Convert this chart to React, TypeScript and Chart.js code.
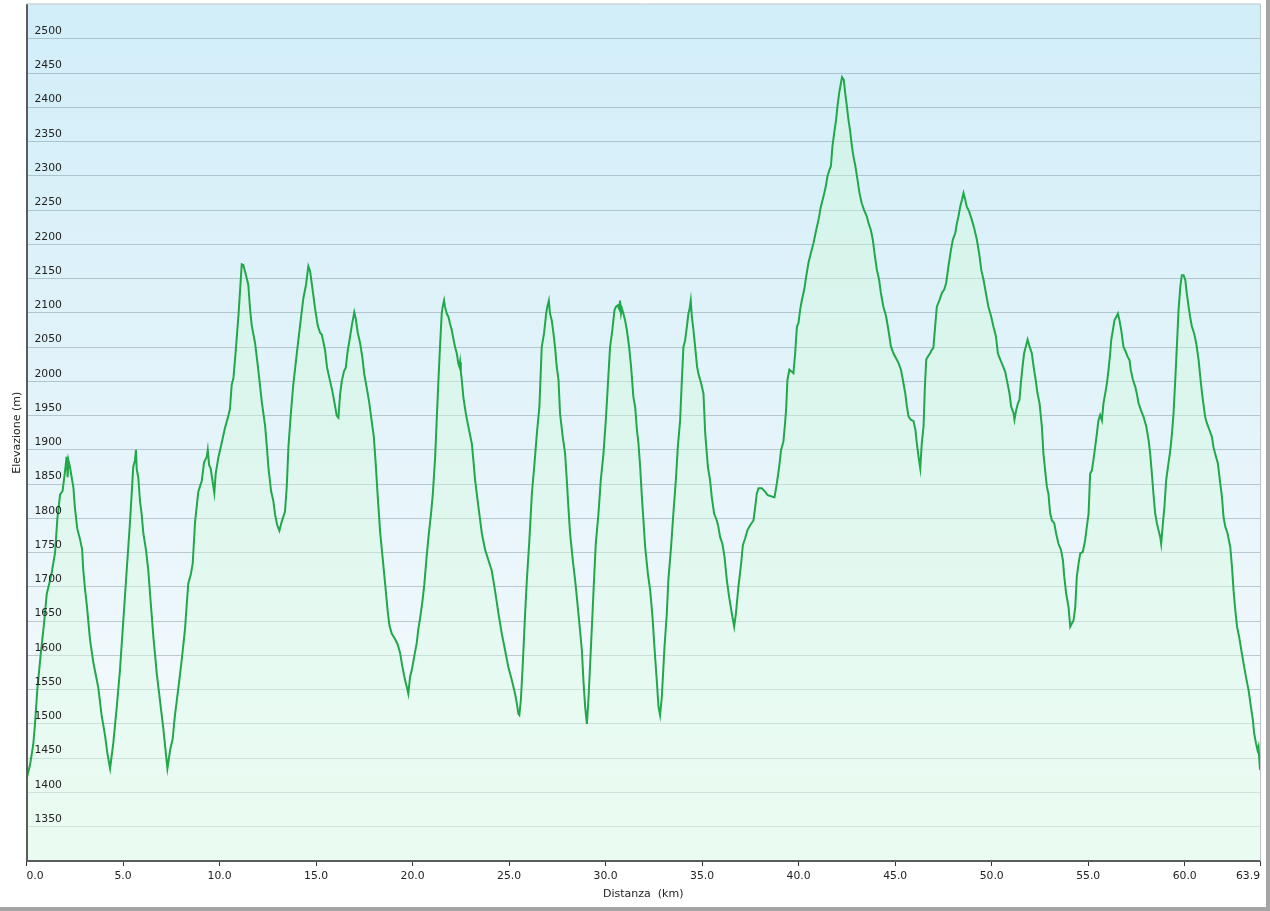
import React, { useEffect, useRef } from 'react';
import { Chart, registerables } from 'chart.js';

Chart.register(...registerables);

// Distance along the route (km)
const distanceKm: number[] = [
  0.00, 0.05, 0.18, 0.35, 0.44, 0.56, 0.73, 0.92, 1.05, 1.18, 1.30, 1.48, 1.60, 1.74, 1.87, 2.00, 2.08, 2.13, 2.17, 2.25,
  2.43, 2.51, 2.63, 2.77, 2.88, 2.94, 3.03, 3.12, 3.29, 3.46, 3.72, 3.89, 4.07, 4.19, 4.33, 4.50, 4.67, 4.84, 5.02, 5.19,
  5.36, 5.53, 5.62, 5.67, 5.71, 5.79, 5.88, 5.97, 6.05, 6.19, 6.31, 6.43, 6.57, 6.75, 6.92, 7.09, 7.18, 7.30, 7.44, 7.57,
  7.69, 7.87, 8.04, 8.21, 8.30, 8.38, 8.51, 8.61, 8.73, 8.90, 9.08, 9.20, 9.34, 9.39, 9.46, 9.54, 9.65, 9.73, 9.80, 9.94,
  10.11, 10.28, 10.46, 10.54, 10.63, 10.72, 10.84, 10.98, 11.06, 11.15, 11.23, 11.36, 11.49, 11.58, 11.67, 11.84, 12.01, 12.19, 12.36, 12.45,
  12.53, 12.67, 12.79, 12.88, 12.99, 13.10, 13.22, 13.39, 13.48, 13.57, 13.70, 13.82, 14.00, 14.17, 14.34, 14.48, 14.60, 14.69, 14.81, 14.95,
  15.09, 15.21, 15.30, 15.47, 15.57, 15.73, 15.85, 15.98, 16.07, 16.16, 16.24, 16.33, 16.45, 16.54, 16.64, 16.71, 16.85, 16.98, 17.06, 17.16,
  17.28, 17.40, 17.50, 17.63, 17.75, 17.89, 17.99, 18.09, 18.20, 18.32, 18.44, 18.58, 18.71, 18.80, 18.92, 19.09, 19.23, 19.35, 19.47, 19.61,
  19.70, 19.78, 19.87, 19.96, 20.09, 20.22, 20.30, 20.39, 20.51, 20.61, 20.73, 20.85, 20.95, 21.05, 21.17, 21.25, 21.34, 21.42, 21.51, 21.56,
  21.63, 21.68, 21.77, 21.86, 21.94, 22.03, 22.11, 22.20, 22.29, 22.37, 22.43, 22.46, 22.50, 22.55, 22.63, 22.76, 22.89, 23.07, 23.15, 23.24,
  23.41, 23.59, 23.76, 23.93, 24.10, 24.27, 24.45, 24.62, 24.79, 24.96, 25.14, 25.31, 25.40, 25.48, 25.53, 25.61, 25.71, 25.83, 25.92, 26.05,
  26.18, 26.30, 26.44, 26.57, 26.69, 26.81, 26.92, 26.98, 27.06, 27.12, 27.21, 27.30, 27.38, 27.47, 27.56, 27.64, 27.78, 27.90, 27.99, 28.07,
  28.16, 28.30, 28.42, 28.51, 28.64, 28.77, 28.85, 28.94, 29.03, 29.11, 29.20, 29.32, 29.40, 29.49, 29.63, 29.75, 29.89, 30.01, 30.15, 30.23,
  30.35, 30.46, 30.54, 30.63, 30.70, 30.75, 30.80, 30.85, 30.92, 31.01, 31.10, 31.22, 31.32, 31.44, 31.53, 31.62, 31.70, 31.79, 31.87, 31.96,
  32.05, 32.19, 32.31, 32.43, 32.53, 32.65, 32.74, 32.82, 32.91, 33.05, 33.17, 33.25, 33.39, 33.51, 33.64, 33.74, 33.86, 33.95, 34.03, 34.12,
  34.21, 34.29, 34.34, 34.41, 34.47, 34.55, 34.64, 34.74, 34.81, 34.95, 35.07, 35.16, 35.30, 35.41, 35.50, 35.62, 35.76, 35.84, 35.93, 36.05,
  36.16, 36.28, 36.40, 36.54, 36.66, 36.75, 36.88, 37.02, 37.11, 37.23, 37.35, 37.49, 37.66, 37.75, 37.83, 37.92, 38.09, 38.26, 38.40, 38.61,
  38.75, 38.87, 38.99, 39.09, 39.21, 39.30, 39.35, 39.42, 39.52, 39.65, 39.73, 39.82, 39.91, 39.99, 40.08, 40.17, 40.29, 40.39, 40.51, 40.63,
  40.77, 40.91, 41.03, 41.15, 41.29, 41.41, 41.49, 41.60, 41.67, 41.75, 41.84, 41.94, 42.01, 42.10, 42.19, 42.25, 42.34, 42.41, 42.50, 42.58,
  42.67, 42.76, 42.84, 42.94, 43.05, 43.15, 43.27, 43.39, 43.53, 43.62, 43.74, 43.84, 43.93, 44.05, 44.17, 44.26, 44.39, 44.53, 44.65, 44.78,
  44.91, 45.04, 45.17, 45.30, 45.40, 45.52, 45.61, 45.69, 45.81, 45.95, 46.05, 46.12, 46.21, 46.30, 46.38, 46.47, 46.54, 46.61, 46.69, 46.81,
  46.90, 46.98, 47.07, 47.16, 47.30, 47.42, 47.54, 47.64, 47.76, 47.89, 47.99, 48.11, 48.20, 48.28, 48.37, 48.46, 48.54, 48.63, 48.71, 48.83,
  48.97, 49.09, 49.23, 49.35, 49.46, 49.58, 49.70, 49.83, 49.97, 50.09, 50.22, 50.32, 50.44, 50.56, 50.70, 50.82, 50.92, 51.01, 51.13, 51.18,
  51.27, 51.36, 51.44, 51.51, 51.60, 51.68, 51.77, 51.86, 51.96, 52.08, 52.17, 52.28, 52.37, 52.48, 52.60, 52.68, 52.77, 52.86, 52.94, 53.03,
  53.12, 53.24, 53.34, 53.46, 53.59, 53.69, 53.76, 53.86, 53.98, 54.07, 54.16, 54.24, 54.33, 54.41, 54.50, 54.59, 54.72, 54.84, 54.93, 55.02,
  55.10, 55.19, 55.27, 55.36, 55.45, 55.53, 55.62, 55.71, 55.79, 55.88, 55.97, 56.05, 56.14, 56.19, 56.28, 56.36, 56.49, 56.54, 56.62, 56.71,
  56.83, 56.92, 57.04, 57.14, 57.21, 57.32, 57.44, 57.52, 57.61, 57.73, 57.87, 58.01, 58.13, 58.21, 58.30, 58.38, 58.47, 58.56, 58.64, 58.73,
  58.78, 58.87, 58.95, 59.04, 59.13, 59.25, 59.34, 59.42, 59.51, 59.60, 59.68, 59.77, 59.85, 59.94, 60.03, 60.11, 60.20, 60.28, 60.37, 60.49,
  60.60, 60.72, 60.84, 60.94, 61.06, 61.15, 61.28, 61.41, 61.49, 61.62, 61.72, 61.84, 61.93, 62.01, 62.10, 62.22, 62.36, 62.45, 62.53, 62.62,
  62.71, 62.82, 62.93, 63.05, 63.17, 63.31, 63.43, 63.53, 63.60, 63.69, 63.77, 63.82, 63.90,
];

// Elevation at each distance (m)
const elevationM: number[] = [
  1445, 1425, 1440, 1470, 1500, 1550, 1600, 1650, 1690, 1705, 1720, 1750, 1800, 1835, 1840, 1870, 1890, 1860, 1885, 1875,
  1845, 1815, 1785, 1770, 1755, 1725, 1697, 1675, 1623, 1590, 1553, 1513, 1483, 1457, 1435, 1473, 1523, 1578, 1653, 1724,
  1794, 1875, 1885, 1900, 1872, 1860, 1825, 1805, 1779, 1754, 1724, 1679, 1628, 1573, 1533, 1493, 1468, 1435, 1462, 1478,
  1513, 1553, 1593, 1638, 1674, 1705, 1718, 1734, 1794, 1839, 1855, 1882, 1890, 1900, 1878, 1873, 1852, 1837, 1865, 1889,
  1910, 1932, 1950, 1960, 1995, 2005, 2045, 2096, 2131, 2171, 2170, 2156, 2141, 2106, 2081, 2056, 2016, 1970, 1935, 1905,
  1875, 1840, 1825, 1805, 1790, 1782, 1795, 1810, 1845, 1905, 1955, 1995, 2040, 2081, 2121, 2141, 2168, 2161, 2136, 2106,
  2081, 2071, 2068, 2045, 2020, 2000, 1985, 1965, 1950, 1947, 1980, 2000, 2015, 2020, 2045, 2056, 2081, 2101, 2091, 2071,
  2056, 2035, 2010, 1990, 1970, 1940, 1920, 1880, 1830, 1780, 1745, 1704, 1665, 1644, 1632, 1624, 1616, 1604, 1584, 1564,
  1554, 1544, 1569, 1579, 1599, 1619, 1639, 1654, 1679, 1704, 1745, 1780, 1805, 1836, 1890, 1943, 2002, 2050, 2099, 2109,
  2118, 2109, 2099, 2094, 2084, 2075, 2063, 2050, 2041, 2026, 2021, 2028, 2014, 2002, 1977, 1953, 1934, 1909, 1885, 1856,
  1817, 1778, 1754, 1739, 1724, 1695, 1661, 1632, 1608, 1583, 1564, 1544, 1530, 1515, 1513, 1535, 1588, 1661, 1710, 1768,
  1836, 1875, 1924, 1963, 2050, 2070, 2099, 2109, 2118, 2099, 2089, 2070, 2050, 2021, 2002, 1953, 1919, 1895, 1856, 1817,
  1778, 1739, 1710, 1685, 1647, 1608, 1564, 1525, 1500, 1535, 1588, 1661, 1710, 1763, 1807, 1856, 1895, 1943, 2011, 2050,
  2075, 2104, 2109, 2111, 2106, 2118, 2099, 2106, 2099, 2089, 2075, 2050, 2021, 1977, 1963, 1930, 1910, 1875, 1836, 1797,
  1758, 1719, 1695, 1656, 1612, 1564, 1525, 1513, 1539, 1612, 1661, 1710, 1758, 1807, 1856, 1904, 1943, 2002, 2050, 2060,
  2080, 2099, 2104, 2118, 2094, 2075, 2050, 2021, 2011, 1997, 1982, 1924, 1875, 1856, 1831, 1807, 1797, 1788, 1773, 1763,
  1744, 1710, 1685, 1661, 1642, 1661, 1700, 1734, 1761, 1771, 1783, 1790, 1797, 1817, 1836, 1844, 1844, 1839, 1834, 1832,
  1831, 1851, 1875, 1900, 1912, 1940, 1959, 2002, 2017, 2014, 2012, 2041, 2080, 2085, 2105, 2119, 2134, 2153, 2173, 2187,
  2202, 2221, 2236, 2255, 2270, 2285, 2299, 2309, 2314, 2343, 2362, 2382, 2401, 2421, 2435, 2444, 2440, 2421, 2401, 2382,
  2365, 2343, 2328, 2314, 2294, 2275, 2260, 2250, 2241, 2231, 2221, 2207, 2187, 2163, 2148, 2129, 2109, 2095, 2075, 2051,
  2041, 2034, 2027, 2017, 2002, 1983, 1963, 1949, 1944, 1942, 1929, 1910, 1890, 1873, 1910, 1934, 1992, 2032, 2036, 2041,
  2046, 2049, 2080, 2109, 2119, 2129, 2134, 2143, 2168, 2192, 2207, 2216, 2231, 2241, 2255, 2265, 2275, 2265, 2255, 2248,
  2236, 2224, 2207, 2187, 2163, 2148, 2129, 2109, 2095, 2080, 2066, 2041, 2032, 2024, 2014, 1997, 1983, 1963, 1954, 1944,
  1958, 1968, 1973, 1997, 2022, 2041, 2051, 2061, 2051, 2041, 2022, 2002, 1983, 1968, 1934, 1895, 1870, 1846, 1836, 1807,
  1797, 1793, 1778, 1763, 1754, 1739, 1715, 1690, 1671, 1642, 1647, 1651, 1671, 1715, 1734, 1749, 1751, 1768, 1788, 1807,
  1865, 1870, 1885, 1904, 1924, 1943, 1951, 1943, 1968, 1982, 1997, 2016, 2041, 2060, 2075, 2089, 2096, 2099, 2089, 2075,
  2050, 2045, 2036, 2031, 2016, 2002, 1992, 1982, 1968, 1958, 1948, 1934, 1914, 1895, 1865, 1836, 1807, 1793, 1783, 1773,
  1763, 1793, 1817, 1856, 1875, 1899, 1924, 1953, 2002, 2055, 2104, 2138, 2155, 2155, 2148, 2128, 2109, 2094, 2080, 2070,
  2055, 2031, 1997, 1973, 1948, 1939, 1929, 1919, 1904, 1890, 1880, 1851, 1831, 1802, 1788, 1778, 1758, 1729, 1695, 1666,
  1642, 1627, 1608, 1588, 1569, 1549, 1525, 1506, 1486, 1472, 1462, 1467, 1433,
];

// Axis ticks
const xTickValues: number[] = [0, 5, 10, 15, 20, 25, 30, 35, 40, 45, 50, 55, 60, 63.9];
const yMin = 1300;
const yMax = 2550;
const yStep = 50;

const xTitle = 'Distanza  (km)';
const yTitle = 'Elevazione (m)';

const FONT_FAMILY = '"DejaVu Sans", Verdana, sans-serif';

const plotBackground = {
  id: 'plotBackground',
  beforeDraw(chart: any) {
    const { ctx, chartArea: a } = chart;
    if (!a) return;
    ctx.save();
    const g = ctx.createLinearGradient(0, a.top, 0, a.bottom);
    g.addColorStop(0, '#d1eef9');
    g.addColorStop(0.45, '#e3f3fa');
    g.addColorStop(0.8, '#f1f9fc');
    g.addColorStop(1, '#f1fbf7');
    ctx.fillStyle = g;
    ctx.fillRect(a.left, a.top, a.right - a.left, a.bottom - a.top);
    ctx.restore();
  },
  afterDraw(chart: any) {
    const { ctx, chartArea: a } = chart;
    if (!a) return;
    ctx.save();
    ctx.strokeStyle = '#b9c2c6';
    ctx.lineWidth = 1;
    ctx.beginPath();
    ctx.moveTo(a.left, a.top - 0.5);
    ctx.lineTo(a.right + 0.5, a.top - 0.5);
    ctx.lineTo(a.right + 0.5, a.bottom);
    ctx.stroke();
    ctx.restore();
  },
};

export default function App() {
  const canvasRef = useRef<HTMLCanvasElement | null>(null);

  useEffect(() => {
    const canvas = canvasRef.current;
    if (!canvas) return;

    const points = distanceKm.map((x, i) => ({ x, y: elevationM[i] }));

    const fillGradient = (context: any) => {
      const chart = context.chart;
      const { ctx, chartArea } = chart;
      if (!chartArea) return 'rgba(200,245,215,0.35)';
      const g = ctx.createLinearGradient(0, chartArea.top, 0, chartArea.bottom);
      g.addColorStop(0, 'rgba(205,250,210,0.38)');
      g.addColorStop(0.5, 'rgba(210,250,220,0.42)');
      g.addColorStop(1, 'rgba(228,252,236,0.5)');
      return g;
    };

    const chart = new Chart(canvas, {
      type: 'line',
      data: {
        datasets: [
          {
            label: 'Elevazione',
            data: points,
            borderColor: '#20a84a',
            borderWidth: 2,
            pointRadius: 0,
            pointHoverRadius: 0,
            tension: 0,
            fill: 'start',
            backgroundColor: fillGradient,
          },
        ],
      },
      options: {
        animation: false,
        responsive: false,
        maintainAspectRatio: false,
        events: [],
        layout: { padding: { left: 0, right: 6, top: 4.5, bottom: 0 } },
        plugins: {
          legend: { display: false },
          tooltip: { enabled: false },
        },
        scales: {
          x: {
            type: 'linear',
            min: 0,
            max: 63.9,
            afterBuildTicks: (scale: any) => {
              scale.ticks = xTickValues.map((v) => ({ value: v }));
            },
            afterFit: (scale: any) => {
              scale.height = 46;
              scale.paddingLeft = 0;
              scale.paddingRight = 0;
            },
            ticks: {
              autoSkip: false,
              maxRotation: 0,
              minRotation: 0,
              align: 'inner',
              padding: 4,
              color: '#222',
              font: { family: FONT_FAMILY, size: 10.8 },
              callback: (v: any) => Number(v).toFixed(1),
            },
            grid: {
              drawOnChartArea: false,
              drawTicks: true,
              tickLength: 5,
              tickColor: '#333',
              tickWidth: 1,
            },
            border: { display: true, color: '#5c5c5c', width: 2, z: 1 },
            title: {
              display: true,
              text: xTitle,
              color: '#222',
              font: { family: FONT_FAMILY, size: 11 },
              padding: { top: 0, bottom: 6.4 },
            },
          },
          y: {
            type: 'linear',
            min: yMin,
            max: yMax,
            afterFit: (scale: any) => {
              scale.width = 26.5;
              scale.paddingTop = 0;
              scale.paddingBottom = 0;
            },
            ticks: {
              stepSize: yStep,
              mirror: true,
              padding: 8,
              labelOffset: -7.6,
              z: 1,
              color: '#222',
              font: { family: FONT_FAMILY, size: 10.8 },
              callback: (v: any) => (v === yMin || v === yMax ? null : String(v)),
            },
            grid: {
              color: 'rgba(90,110,120,0.34)',
              lineWidth: 1,
              drawTicks: false,
            },
            border: { display: true, color: '#5c5c5c', width: 2, z: 1 },
            title: {
              display: true,
              text: yTitle,
              color: '#222',
              font: { family: FONT_FAMILY, size: 11 },
              padding: { top: 11, bottom: 0 },
            },
          },
        },
      },
      plugins: [plotBackground],
    } as any);

    return () => {
      chart.destroy();
    };
  }, []);

  return (
    <div
      style={{
        position: 'absolute',
        left: 0,
        top: 0,
        width: 1266,
        height: 907,
        borderRight: '4px solid #a4a4a4',
        borderBottom: '4px solid #a4a4a4',
        background: '#ffffff',
      }}
    >
      <canvas ref={canvasRef} width={1266} height={907} style={{ display: 'block', width: 1266, height: 907 }} />
    </div>
  );
}
